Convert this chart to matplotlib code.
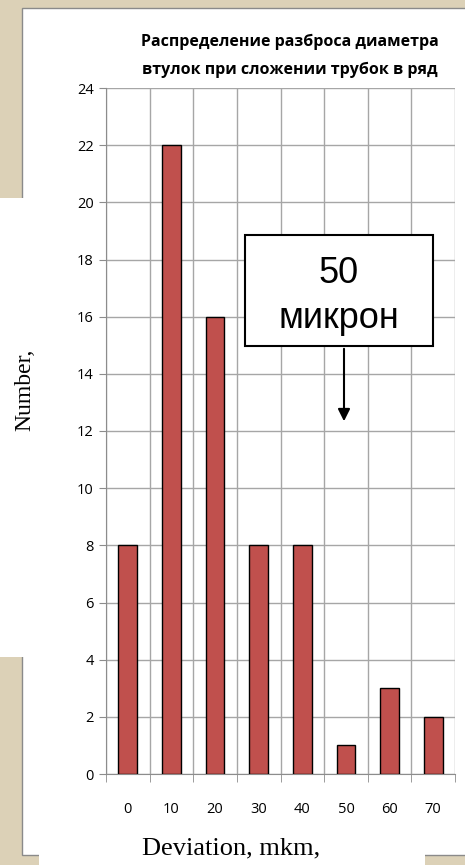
import matplotlib
matplotlib.use("Agg")
import matplotlib.pyplot as plt
from matplotlib.patches import Rectangle, FancyArrowPatch

categories = ["0", "10", "20", "30", "40", "50", "60", "70"]
counts = [8, 22, 16, 8, 8, 1, 3, 2]
yticks = list(range(0, 25, 2))
title = "Распределение разброса диаметра\nвтулок при сложении трубок в ряд"
xlabel = "Deviation, mkm,"
ylabel = "Number,"
note = "50\nмикрон"

W, H = 465, 865
fig = plt.figure(figsize=(W / 100, H / 100), dpi=100)
fig.patch.set_facecolor("#dcd1b7")

def px_rect(x0, y0, x1, y1, **kw):
    fig.add_artist(Rectangle((x0 / W, 1 - y1 / H), (x1 - x0) / W, (y1 - y0) / H,
                             transform=fig.transFigure, **kw))

# white panel
px_rect(22, 8, 470, 855, facecolor="white", edgecolor="#8a8a8a", lw=1.0, zorder=0)
px_rect(0, 198, 24, 657, facecolor="white", edgecolor="none", zorder=0.5)
px_rect(39, 853, 425, 870, facecolor="white", edgecolor="none", zorder=0.5)

ax = fig.add_axes([106 / W, 1 - 774 / H, (455 - 106) / W, (774 - 88) / H])
ax.set_facecolor("white")
x = list(range(len(categories)))
ax.bar(x, counts, width=0.43, color="#c0504d", edgecolor="black", linewidth=1.0, zorder=3)
ax.set_xlim(-0.5, len(categories) - 0.5)
ax.set_ylim(0, 24)
ax.set_yticks(yticks)
ax.set_yticklabels([str(t) for t in yticks], fontsize=10.5, family="Open Sans")
ax.set_xticks(x)
ax.set_xticklabels(categories, fontsize=10.5, family="Open Sans")
ax.tick_params(axis="x", length=0, pad=20)
ax.tick_params(axis="y", length=5, color="#8c8c8c", pad=4)
ax.set_xticks([i - 0.5 for i in range(len(categories) + 1)], minor=True)
ax.tick_params(axis="x", which="minor", length=6, color="#8c8c8c", direction="out")
ax.grid(True, axis="y", color="#a6a6a6", lw=1.0, zorder=0)
ax.grid(True, axis="x", which="minor", color="#a6a6a6", lw=1.0, zorder=0)
for s in ["top", "right"]:
    ax.spines[s].set_visible(False)
for s in ["left", "bottom"]:
    ax.spines[s].set_color("#8c8c8c")

fig.text(290 / W, 1 - 56 / H, title, ha="center", va="center", fontsize=11.5,
         fontweight="bold", family="Open Sans", linespacing=2.0)
fig.text(25 / W, 1 - 390 / H, ylabel, ha="center", va="center", rotation=90,
         fontsize=17, family="Liberation Serif")
fig.text(231 / W, 1 - 848 / H, xlabel, ha="center", va="center",
         fontsize=19, family="Liberation Serif")

# annotation box and arrow
px_rect(245, 235, 433, 346, facecolor="white", edgecolor="black", lw=1.5, zorder=5)
fig.text(339 / W, 1 - 296 / H, note, ha="center", va="center", fontsize=26,
         family="Liberation Sans", linespacing=1.35, zorder=6)
fig.add_artist(FancyArrowPatch((344 / W, 1 - 346 / H), (344 / W, 1 - 424 / H),
                               transform=fig.transFigure, arrowstyle="-|>",
                               mutation_scale=18, color="black", lw=1.5, zorder=6))

fig.savefig("out.png", dpi=100)
